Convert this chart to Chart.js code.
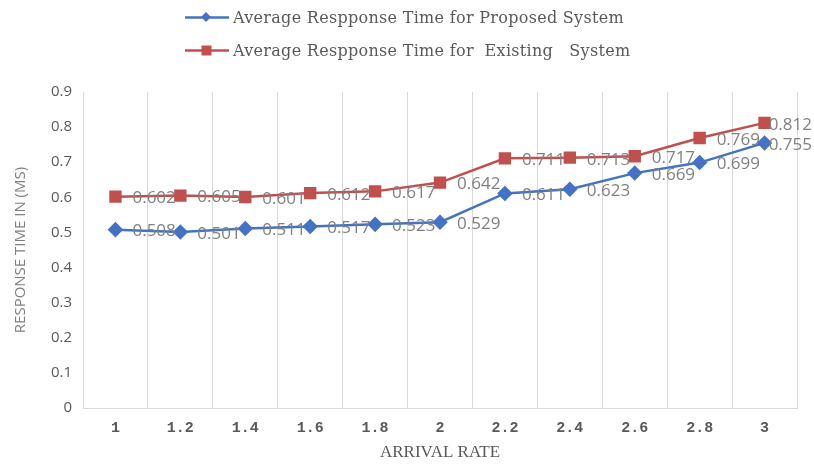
<!DOCTYPE html>
<html>
<head>
<meta charset="utf-8">
<script src="https://cdn.jsdelivr.net/npm/chart.js@4.4.1/dist/chart.umd.min.js"></script>
<style>
  html, body { margin: 0; padding: 0; background: #fff; }
  #wrap { position: relative; width: 814px; height: 466px; }
  #leyenda { position: absolute; left: 185px; top: 1px; font-family: "DejaVu Serif", serif; font-size: 16px; letter-spacing: 0.3px; color: #595959; }
  .item { display: flex; align-items: center; height: 33px; white-space: pre; }
  .item svg { margin-right: 4px; }
</style>
</head>
<body>
<div id="wrap">
  <canvas id="grafico" width="814" height="466"></canvas>
  <div id="leyenda"></div>
</div>
<script>
const tasasLlegada = ['1', '1.2', '1.4', '1.6', '1.8', '2', '2.2', '2.4', '2.6', '2.8', '3'];
const tiempoPropuesto = [0.508, 0.501, 0.511, 0.517, 0.523, 0.529, 0.611, 0.623, 0.669, 0.699, 0.755];
const tiempoExistente = [0.602, 0.605, 0.601, 0.612, 0.617, 0.642, 0.711, 0.713, 0.717, 0.769, 0.812];
const nombresSeries = ['Average Respponse Time for Proposed System', 'Average Respponse Time for  Existing   System'];
const ticksY = [0, 0.1, 0.2, 0.3, 0.4, 0.5, 0.6, 0.7, 0.8, 0.9];

const azul = '#4472C4';
const rojo = '#C0504D';

// etiquetas de valor a la derecha de cada punto (se recortan al borde del lienzo)
const etiquetasValor = {
    id: 'etiquetasValor',
    afterDatasetsDraw(chart) {
        const ctx = chart.ctx;
        ctx.save();
        ctx.font = '17px "Open Sans", sans-serif';
        ctx.fillStyle = '#808080';
        ctx.textAlign = 'left';
        ctx.textBaseline = 'middle';
        chart.data.datasets.forEach((ds, i) => {
            chart.getDatasetMeta(i).data.forEach((pt, j) => {
                const texto = ds.data[j].toFixed(3);
                const ancho = ctx.measureText(texto).width;
                const x = Math.min(pt.x + 17, chart.width - 2 - ancho);
                ctx.fillText(texto, x, pt.y + 2);
            });
        });
        ctx.restore();
    }
};

function crearLeyenda() {
    const cont = document.getElementById('leyenda');
    const marcas = [
        `<rect x="17.5" y="2.5" width="7" height="7" fill="${azul}" transform="rotate(45 21 6)"/>`,
        `<rect x="16.5" y="1.5" width="10" height="10" fill="${rojo}"/>`
    ];
    [azul, rojo].forEach((color, i) => {
        cont.insertAdjacentHTML('beforeend', `
            <div class="item">
                <svg width="44" height="13"><line x1="0" y1="6.5" x2="44" y2="6.5" stroke="${color}" stroke-width="2.5"/>${marcas[i]}</svg>
                <span>${nombresSeries[i]}</span>
            </div>`);
    });
}

crearLeyenda();

new Chart(document.getElementById('grafico'), {
    type: 'line',
    data: {
        labels: tasasLlegada,
        datasets: [
            {
                label: nombresSeries[0],
                data: tiempoPropuesto,
                borderColor: azul,
                backgroundColor: azul,
                borderWidth: 2.5,
                pointStyle: 'rectRot',
                pointRadius: 6,
                pointHoverRadius: 6
            },
            {
                label: nombresSeries[1],
                data: tiempoExistente,
                borderColor: rojo,
                backgroundColor: rojo,
                borderWidth: 2.5,
                pointStyle: 'rect',
                pointRadius: 7,
                pointHoverRadius: 7
            }
        ]
    },
    options: {
        responsive: false,
        animation: false,
        layout: { padding: { top: 92, right: 17, bottom: 0, left: 8 } },
        plugins: {
            legend: { display: false },
            tooltip: { enabled: false }
        },
        scales: {
            x: {
                offset: true,
                afterFit(scale) { scale.height = 58; },
                grid: { offset: true, color: '#d9d9d9', drawTicks: false },
                border: { color: '#d9d9d9' },
                ticks: {
                    padding: 11,
                    color: '#595959',
                    font: { family: '"Liberation Mono", monospace', size: 15, weight: 'bold' }
                },
                title: {
                    display: true,
                    text: 'ARRIVAL RATE',
                    color: '#595959',
                    padding: { top: 0, bottom: 3 },
                    font: { family: '"Liberation Serif", serif', size: 17 }
                }
            },
            y: {
                min: 0,
                max: 0.9,
                afterFit(scale) { scale.width = 75; },
                afterBuildTicks(scale) {
                    scale.ticks = ticksY.map(v => ({ value: v }));
                },
                grid: { display: false, drawTicks: false },
                border: { display: true, color: '#d9d9d9' },
                ticks: {
                    padding: 11,
                    color: '#595959',
                    font: { family: '"Open Sans", sans-serif', size: 15 },
                    callback: v => String(Math.round(v * 10) / 10)
                },
                title: {
                    display: true,
                    text: 'RESPONSE TIME IN (MS)',
                    color: '#7f7f7f',
                    padding: { top: 4, bottom: 0 },
                    font: { family: '"Open Sans", sans-serif', size: 15 }
                }
            }
        }
    },
    plugins: [etiquetasValor]
});
</script>
</body>
</html>
